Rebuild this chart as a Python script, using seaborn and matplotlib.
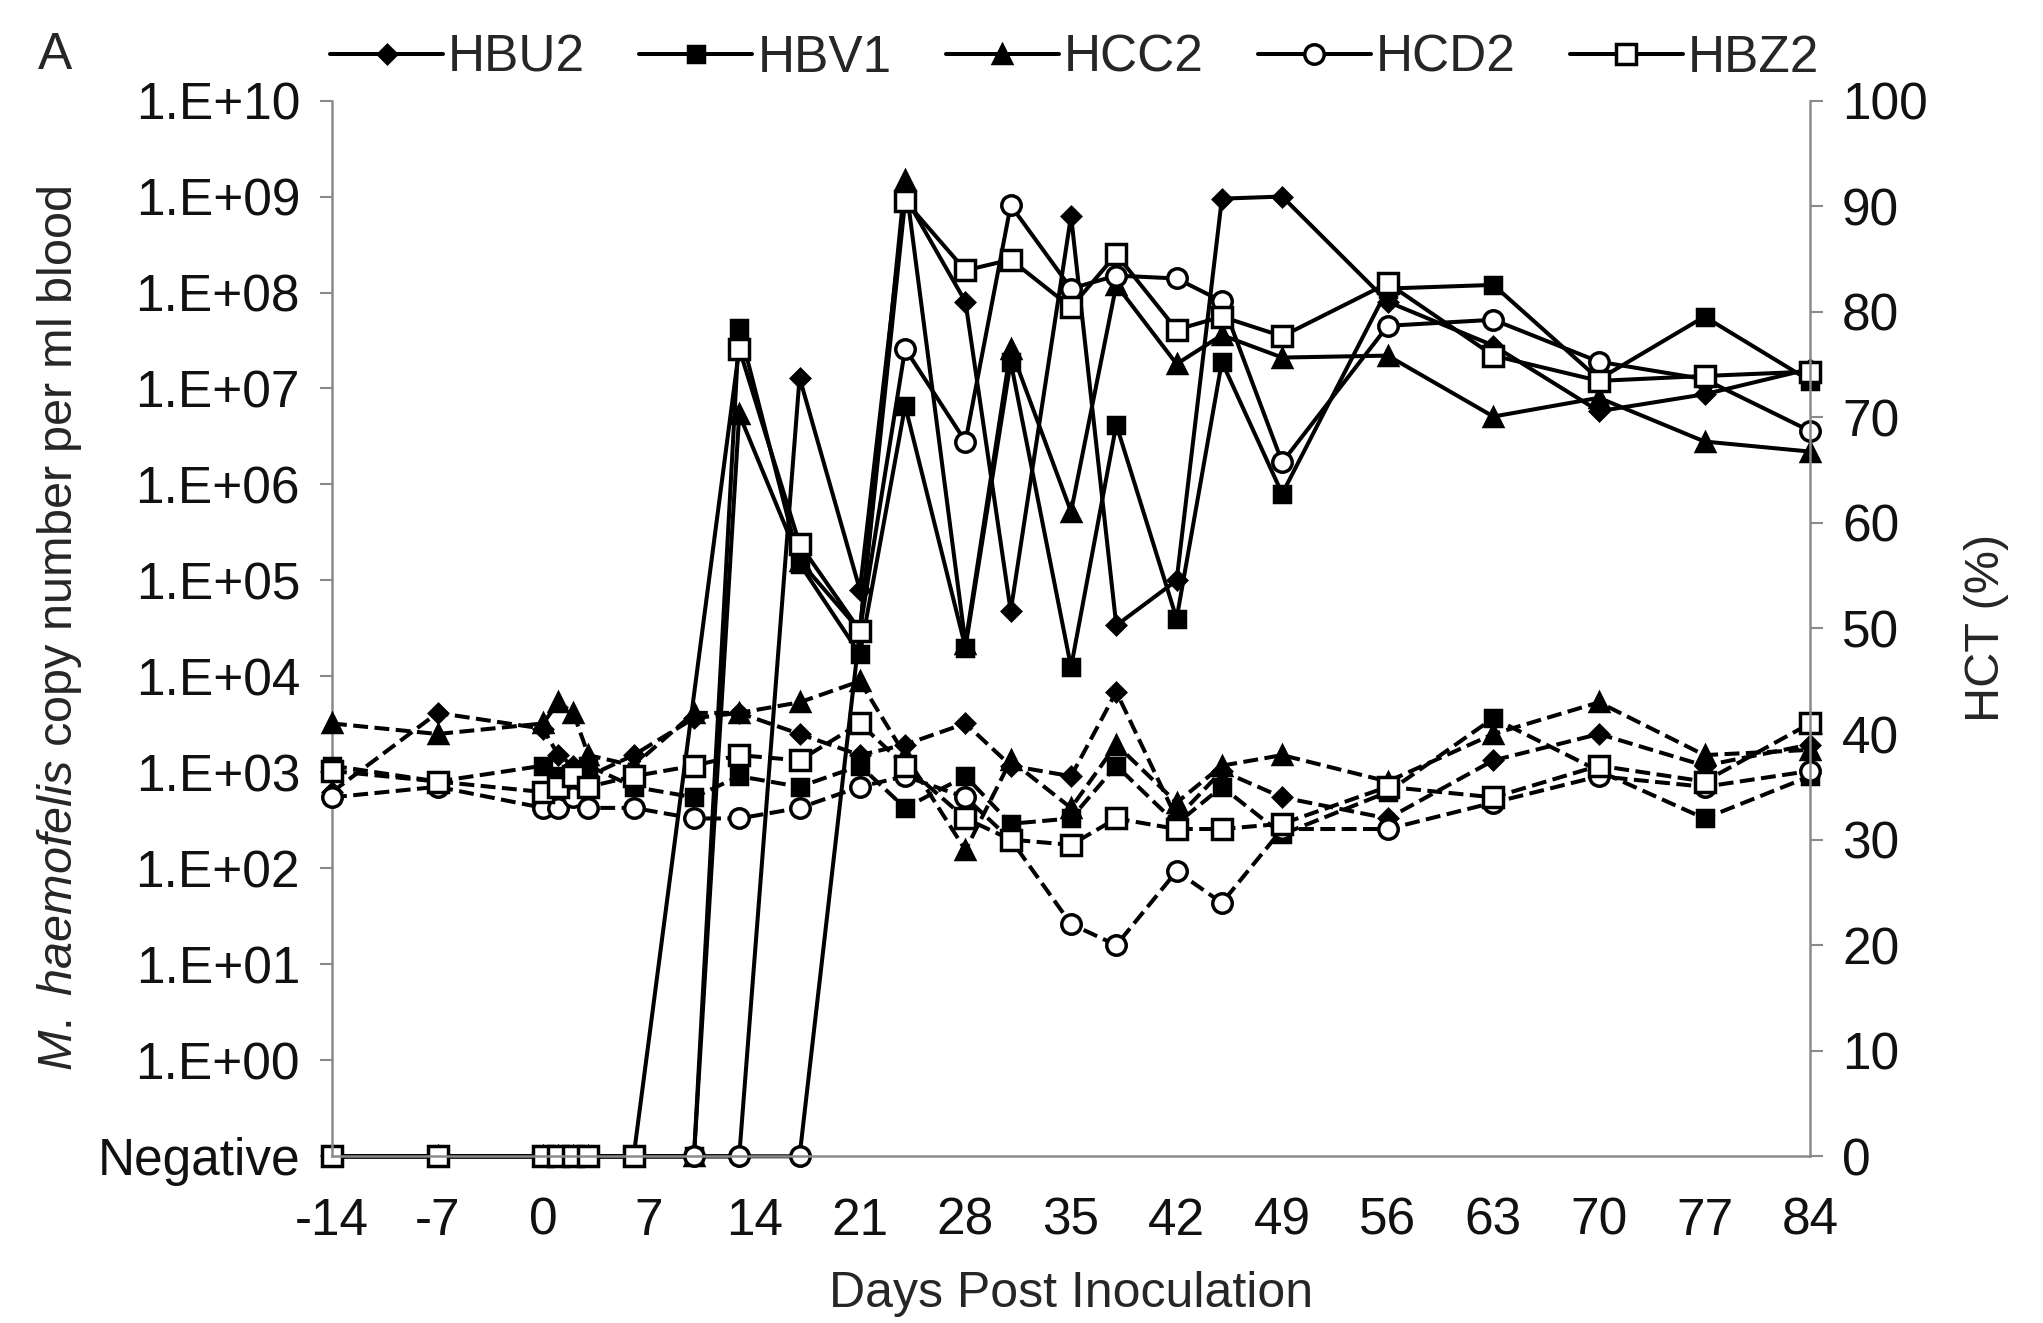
import numpy as np
import matplotlib
matplotlib.use("Agg")
import matplotlib.pyplot as plt
from matplotlib.ticker import FixedLocator, NullLocator
import seaborn as sns

# %% DATA
animals = ["HBU2", "HBV1", "HCC2", "HCD2", "HBZ2"]

days_all = [-14, -7, 0, 1, 2, 3, 6, 10, 13, 17, 21, 24, 28, 31, 35, 38, 42, 45, 49, 56, 63, 70, 77, 84]
days_hbz2 = [-14, -7, 0, 1, 2, 3, 6, 13, 17, 21, 24, 28, 31, 35, 38, 42, 45, 49, 56, 63, 70, 77, 84]

# copy number per ml blood (0 = Negative)
copy_hbu2 = [0, 0, 0, 0, 0, 0, 0, 0, 0, 1.3e7, 8e4, 1e9, 8e7, 4.8e4, 6.3e8, 3.4e4, 1e5,
             9.5e8, 1e9, 8e7, 2.8e7, 5.8e6, 8.7e6, 1.6e7]
copy_hbv1 = [0, 0, 0, 0, 0, 0, 0, 0, 4.3e7, 1.5e5, 1.7e4, 6.6e6, 2e4, 1.9e7, 1.25e4, 4.2e6,
             4e4, 1.9e7, 8e5, 1.1e8, 1.2e8, 1.25e7, 5.6e7, 1.2e7]
copy_hcc2 = [0, 0, 0, 0, 0, 0, 0, 0, 5.4e6, 1.6e5, 3e4, 1.5e9, 2.2e4, 2.6e7, 5.2e5, 1.2e8,
             1.8e7, 3.6e7, 2.1e7, 2.2e7, 5.1e6, 8e6, 2.8e6, 2.2e6]
copy_hcd2 = [0, 0, 0, 0, 0, 0, 0, 0, 0, 0, 3e4, 2.6e7, 2.8e6, 8.1e8, 1.1e8, 1.5e8, 1.4e8,
             8.1e7, 1.7e6, 4.5e7, 5.2e7, 1.9e7, 1.25e7, 3.6e6]
copy_hbz2 = [0, 0, 0, 0, 0, 0, 0, 2.6e7, 2.4e5, 3e4, 9e8, 1.7e8, 2.2e8, 7e7, 2.5e8, 4.1e7,
             5.6e7, 3.5e7, 1.25e8, 2.2e7, 1.2e7, 1.35e7, 1.5e7]

# HCT (%)
hct_hbu2 = [34.5, 42, 40.5, 38, 37, 36, 38, 41.5, 42, 40, 38, 39, 41, 37, 36, 44, 32, 36.5,
            34, 32, 37.5, 40, 37, 39]
hct_hbv1 = [37, 35.5, 37, 36, 35, 37, 35, 34, 36, 35, 37, 33, 36, 31.5, 32, 37, 31.5, 35,
            30.5, 34.5, 41.5, 36.5, 32, 36]
hct_hcc2 = [41, 40, 41, 43, 42, 38, 37, 42, 42, 43, 45, 38, 29, 37.5, 33, 39, 33.5, 37,
            38, 35.5, 40, 43, 38, 38.5]
hct_hcd2 = [34, 35, 33, 33, 34, 33, 33, 32, 32, 33, 35, 36, 34, 30, 22, 20, 27, 24,
            31, 31, 33.5, 36, 35, 36.5]
hct_hbz2 = [36.5, 35.5, 34.5, 35, 36, 35, 36, 37, 38, 37.5, 41, 37, 32, 30, 29.5, 32, 31, 31,
            31.5, 35, 34, 37, 35.5, 41]

copy_days = [days_all, days_all, days_all, days_all, days_hbz2]
copies = [copy_hbu2, copy_hbv1, copy_hcc2, copy_hcd2, copy_hbz2]
hcts = [hct_hbu2, hct_hbv1, hct_hcc2, hct_hcd2, hct_hbz2]

ytick_labels = ["Negative"] + ["1.E+%02d" % i for i in range(0, 11)]
xticks = list(range(-14, 85, 7))

# %% STYLE
NEG_POS = 0.1
styles = {
    "HBU2": dict(marker="D", markersize=9, markerfacecolor="black"),
    "HBV1": dict(marker="s", markersize=12, markerfacecolor="black"),
    "HCC2": dict(marker="^", markersize=13, markerfacecolor="black"),
    "HCD2": dict(marker="o", markersize=14, markerfacecolor="white"),
    "HBZ2": dict(marker="s", markersize=14, markerfacecolor="white"),
}

sns.set_style("white")
plt.rcParams["font.family"] = ["Liberation Sans", "DejaVu Sans"]
plt.rcParams["mathtext.fontset"] = "custom"
plt.rcParams["mathtext.it"] = "Liberation Sans:italic"
plt.rcParams["mathtext.rm"] = "Liberation Sans"

fig = plt.figure(figsize=(20.43, 13.23), dpi=100)
ax = fig.add_axes([0.1625, 0.126, 0.7235, 0.798])
ax2 = ax.twinx()
ax.set_yscale("log")

# %% PLOT
for name, d, c in zip(animals, copy_days, copies):
    y = np.where(np.array(c) == 0, NEG_POS, c)
    sns.lineplot(x=d, y=y, ax=ax, color="black", lw=2.9, markeredgecolor="black",
                 markeredgewidth=2.5, clip_on=False, label=name, sort=False,
                 **styles[name])

for name, h in zip(animals, hcts):
    sns.lineplot(x=days_all, y=h, ax=ax2, color="black", lw=2.9, linestyle="--",
                 dashes=(4, 2), markeredgecolor="black", markeredgewidth=2.5,
                 clip_on=False, legend=False, sort=False, **styles[name])

# %% AXES
ax.set_xlim(-14, 84)
ax.set_ylim(NEG_POS, 1e10)
ax2.set_ylim(0, 100)
ax.set_xticks(xticks)
ax.set_xticklabels([str(t) for t in xticks])
ax.yaxis.set_major_locator(FixedLocator([NEG_POS] + [10.0 ** i for i in range(0, 11)]))
ax.yaxis.set_minor_locator(NullLocator())
ax.set_yticklabels(ytick_labels)
ax2.set_yticks(range(0, 101, 10))

for a in (ax, ax2):
    for s in a.spines.values():
        s.set_color("#8a8a8a")
        s.set_linewidth(1.8)
    a.spines["top"].set_visible(False)
    a.tick_params(axis="both", which="major", direction="out", length=9, width=1.5,
                  color="#8a8a8a", labelsize=37, labelcolor="#111111", pad=14)
ax.tick_params(axis="x", pad=20)
ax.spines["right"].set_visible(False)
ax2.spines["left"].set_visible(False)
ax2.spines["bottom"].set_visible(False)

ax.set_xlabel("Days Post Inoculation", fontsize=36, labelpad=18)
ax.set_ylabel(r"$\mathit{M.\ haemofelis}$ copy number per ml blood", fontsize=35, labelpad=10)
ax2.set_ylabel("HCT (%)", fontsize=35, labelpad=26)

handles, labels = ax.get_legend_handles_labels()
if ax.legend_:
    ax.legend_.remove()
fig.legend(handles, labels, loc="center", bbox_to_anchor=(0.526, 0.956), ncol=5,
           frameon=False, fontsize=37, handlelength=2.2, handletextpad=0.1,
           columnspacing=1.05)
fig.text(0.027, 0.958, "A", fontsize=37, ha="center", va="center")

fig.savefig("out.png", dpi=100)
